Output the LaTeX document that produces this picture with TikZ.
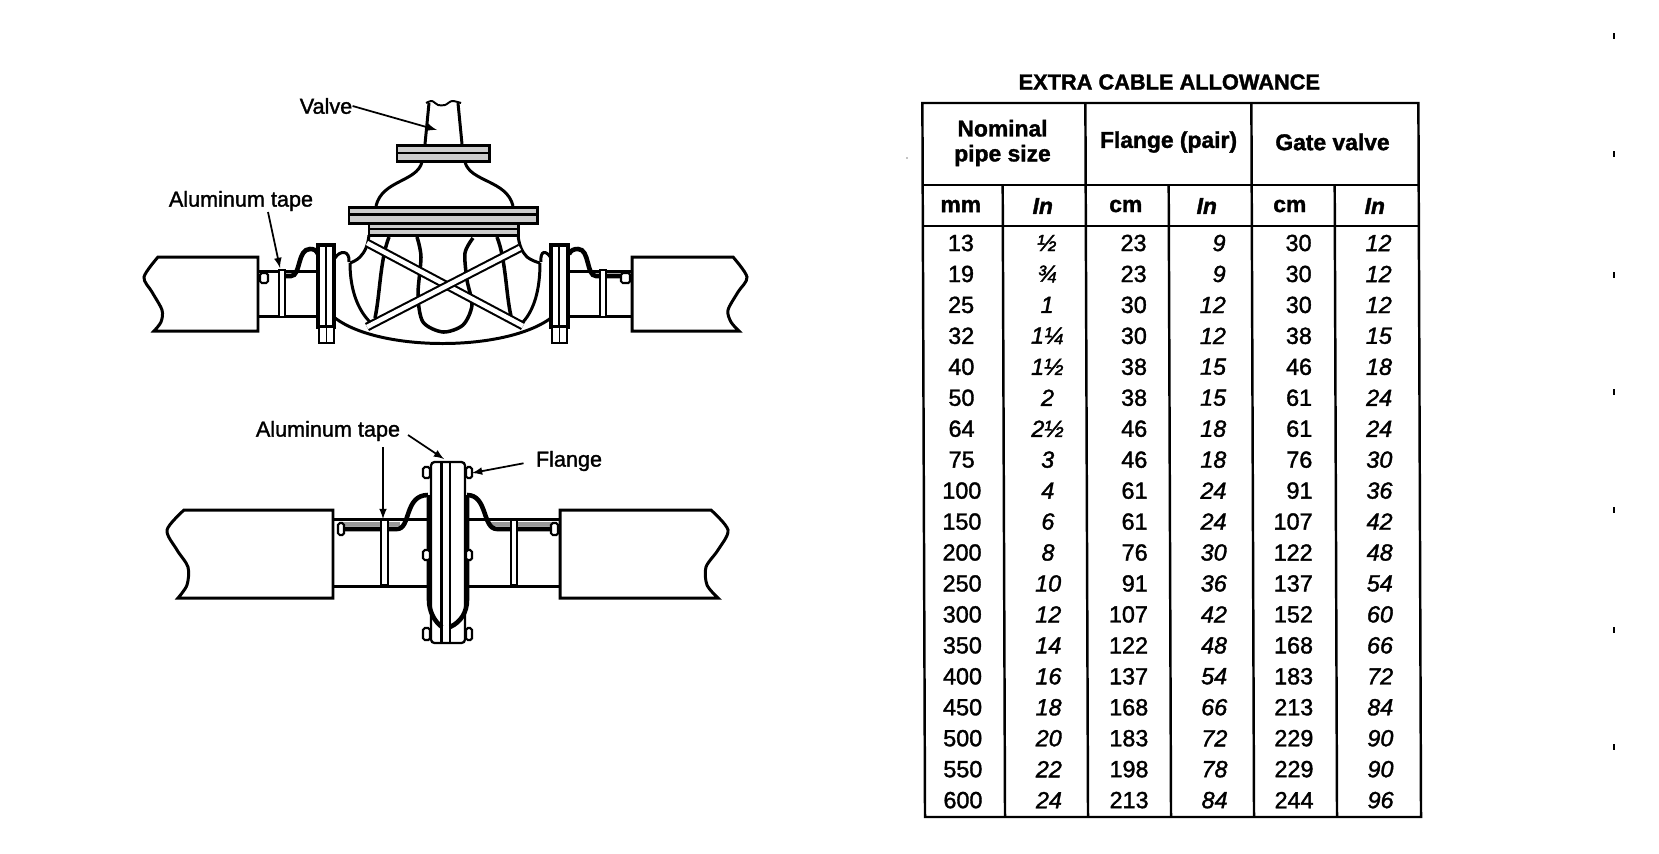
\documentclass[tikz,border=0pt]{standalone}
\usepackage{fontspec}
\setmainfont[FakeBold=1.5]{Liberation Sans}
\usetikzlibrary{arrows}
\tikzset{%
	pipe/.style    = {line width=1.7pt},
	part/.style    = {line width=1.3pt,fill=white},
	strip/.style   = {line width=1.7pt,fill=black!20},
	bolt/.style    = {line width=1.2pt,fill=white,rounded corners=1pt},
	curve/.style   = {line width=1.7pt},
	tape/.style    = {line width=2.6pt},
	bar/.style     = {double,line width=1.2pt,double distance=2.6pt},
	arrow/.style   = {line width=1pt,-latex},
	rule/.style    = {line width=1.4pt},
	lab/.style     = {inner sep=0pt,font=\fontsize{12.3pt}{14pt}\selectfont},
	head/.style    = {inner sep=0pt,align=center,font=\fontsize{13pt}{14.2pt}\selectfont\bfseries},
	headi/.style   = {inner sep=0pt,font=\fontsize{13pt}{14.2pt}\selectfont\bfseries\itshape},
	cellc/.style   = {inner sep=0pt,font=\fontsize{13.3pt}{15pt}\selectfont},
	celli/.style   = {inner sep=0pt,font=\fontsize{13.3pt}{15pt}\selectfont\itshape},
}
\begin{document}
\begin{tikzpicture}[x=.02cm,y=-.02cm]
	\useasboundingbox (0,0) rectangle (1659,853);
	% valve, pipe ends
	\draw[pipe] (258,257) -- (158,257) -- plot[smooth] coordinates {(158,257) (144,277) (152,292) (162,310) (161,322) (154,331)} -- (258,331) -- cycle;
	\draw[pipe] (632,257) -- (733,257) -- plot[smooth] coordinates {(733,257) (747,277) (738,292) (728,310) (731,322) (739,331)} -- (632,331) -- cycle;
	\draw[curve] (258,271) -- (317,271);
	\draw[curve] (258,316) -- (317,316);
	\draw[curve] (568,271) -- (632,271);
	\draw[curve] (568,316) -- (632,316);
	% valve, tape and bolts
	\draw[tape] (286,276) -- (291,276) .. controls (301,276) and (297,249) .. (310,249) .. controls (314,249) and (316,250) .. (318,254);
	\draw[tape] (631,276) -- (596,276) .. controls (586,276) and (590,249) .. (578,249) .. controls (574,249) and (571,250) .. (569,254);
	\draw[bolt] (260,273) rectangle (268,283);
	\draw[bolt] (621,273) rectangle (630,283);
	\draw[part] (279,270) rectangle (285,317);
	\draw[part] (600,270) rectangle (606,317);
	% valve, body
	\draw[curve] (369,235) .. controls (368,245) and (365,252) .. (360,257) .. controls (357,260) and (353,262) .. (350,263);
	\draw[curve] (518,235) .. controls (519,245) and (522,252) .. (527,257) .. controls (531,260) and (536,262) .. (540,263);
	\draw[curve] (350,263) .. controls (350,290) and (358,310) .. (370,322);
	\draw[curve] (540,263) .. controls (540,290) and (534,310) .. (523,322);
	\draw[curve] (335,318) .. controls (380,352) and (505,352) .. (551,318);
	\draw[curve] (335,258) .. controls (340,250) and (350,250) .. (349,262);
	\draw[curve] (551,258) .. controls (546,250) and (540,250) .. (541,262);
	\draw[curve,line width=2pt] (389,237) .. controls (380,260) and (380,295) .. (375,318);
	\draw[curve,line width=2pt] (497,237) .. controls (506,260) and (506,295) .. (511,316);
	\draw[curve,line width=2pt] plot[smooth] coordinates {(417,237) (421,257) (418,295) (423,322) (443,332) (463,325) (472,305) (467,280) (465,253) (473,238)};
	\draw[bar] (367,243) -- (523,326);
	\draw[bar] (520,248) -- (367,327);
	% valve, flanges
	\draw[strip] (369,223) rectangle (518,235);
	\draw[line width=1.6pt] (369,229) -- (518,229);
	\draw[strip] (349,207) rectangle (537,223);
	\draw[line width=1.6pt] (349,214.5) -- (537,214.5);
	\draw[part,line width=2pt] (318,245) rectangle (334,327);
	\draw[line width=1.5pt] (326,245) -- (326,327);
	\draw[part,line width=2pt] (551,245) rectangle (568,327);
	\draw[line width=1.5pt] (559,245) -- (559,327);
	\draw[part] (319,327) rectangle (334,343);
	\draw[line width=1pt] (326.5,327) -- (326.5,343);
	\draw[part] (552,327) rectangle (567,343);
	\draw[line width=1pt] (559.5,327) -- (559.5,343);
	% valve, bonnet and stem
	\draw[curve] (376,206) .. controls (382,180) and (417,182) .. (422,162);
	\draw[curve] (513,206) .. controls (507,180) and (470,182) .. (465,162);
	\draw[strip] (397,145) rectangle (489,161);
	\draw[line width=1.6pt] (397,153) -- (489,153);
	\draw[curve] (425,144) -- (429,103);
	\draw[curve] (462,144) -- (458,103);
	\draw[line width=1.1pt] plot[smooth] coordinates {(426,103) (432,101) (438,105) (445,105) (452,101) (461,103)};
	\node[lab] (valve) at (326,106) {Valve};
	\coordinate (valvetip) at (437,130);
	\draw[arrow] (valve.east) -- (valvetip);
	\node[lab] (tapea) at (241,201) {Aluminum tape};
	\coordinate (tapeatip) at (280,268);
	\draw[arrow] (268,212) -- (tapeatip);
	% flange, pipe ends
	\draw[pipe] (333,510) -- (184,510) -- plot[smooth] coordinates {(184,510) (167,530) (177,550) (188,567) (187,585) (178,598)} -- (333,598) -- cycle;
	\draw[pipe] (560,510) -- (711,510) -- plot[smooth] coordinates {(711,510) (728,530) (718,550) (706,567) (707,585) (718,598)} -- (560,598) -- cycle;
	\draw[curve] (333,519) -- (430,519);
	\draw[curve] (333,586) -- (430,586);
	\draw[curve] (465,519) -- (560,519);
	\draw[curve] (465,586) -- (560,586);
	% flange, tape and bolts
	\draw[line width=2.4pt,black!40] (342,524) -- (400,524);
	\draw[line width=2.4pt,black!40] (490,524) -- (556,524);
	\draw[tape] (340,529) -- (397,529) .. controls (411,529) and (404,495) .. (428,495);
	\draw[tape] (556,529) -- (497,529) .. controls (482,529) and (488,495) .. (467,495);
	\draw[bolt] (338,523) rectangle (344,535);
	\draw[bolt] (551,523) rectangle (558,535);
	\draw[part] (381,520) rectangle (388,585);
	\draw[part] (511,520) rectangle (517,585);
	% flange, plates
	\draw[part,rounded corners=2pt] (431,462) rectangle (465,643);
	\draw[line width=1.3pt] (441.5,462) -- (441.5,643);
	\draw[line width=1.3pt] (450,462) -- (450,643);
	\draw[tape] (429,495) -- (429,600) .. controls (429,612) and (435,622) .. (442,627);
	\draw[tape] (467,495) -- (467,600) .. controls (467,612) and (461,622) .. (450,627);
	\draw[bolt] (423,467) rectangle (430,478);
	\draw[bolt] (466,467) rectangle (472,478);
	\draw[bolt] (423,550) rectangle (430,560);
	\draw[bolt] (466,550) rectangle (472,560);
	\draw[bolt] (423,628) rectangle (430,640);
	\draw[bolt] (466,628) rectangle (472,640);
	\node[lab] (tapeb) at (328,431) {Aluminum tape};
	\node[lab] (flange) at (569,461) {Flange};
	\coordinate (tapebtip) at (383,519);
	\coordinate (tapectip) at (444,459);
	\coordinate (flangetip) at (472,473);
	\draw[arrow] (383,447) -- (tapebtip);
	\draw[arrow] (408,435) -- (tapectip);
	\draw[arrow,shorten <=7pt] (flange.west) -- (flangetip);
	% table
	\begin{scope}[xslant=-.0037]
		\node[head,font=\fontsize{12.4pt}{14pt}\selectfont\bfseries] (title) at (1169,82) {EXTRA CABLE ALLOWANCE};
		\draw[rule] (922,103) rectangle (1418,817);
		\draw[rule] (922,185) -- (1418,185);
		\draw[rule] (922,226) -- (1418,226);
		\draw[rule] (1002,185) -- (1002,817);
		\draw[rule] (1085,103) -- (1085,817);
		\draw[rule] (1168,185) -- (1168,817);
		\draw[rule] (1251,103) -- (1251,817);
		\draw[rule] (1334,185) -- (1334,817);
		\node[head] (nominal) at (1002,143) {Nominal\\pipe size};
		\node[head] (flangepair) at (1168,142) {Flange (pair)};
		\node[head] (gatevalve) at (1332,142) {Gate valve};
		\node[head] (mm) at (960,206) {mm};
		\node[headi] (ina) at (1042,206) {In};
		\node[head] (cma) at (1125,206) {cm};
		\node[headi] (inb) at (1206,206) {In};
		\node[head] (cmb) at (1289,206) {cm};
		\node[headi] (inc) at (1374,206) {In};
		\foreach \da/\db/\dc/\dd/\de/\df [count=\r] in {
			13/½/23/9/30/12, 19/¾/23/9/30/12, 25/1/30/12/30/12, 32/1¼/30/12/38/15,
			40/1½/38/15/46/18, 50/2/38/15/61/24, 64/2½/46/18/61/24, 75/3/46/18/76/30,
			100/4/61/24/91/36, 150/6/61/24/107/42, 200/8/76/30/122/48, 250/10/91/36/137/54,
			300/12/107/42/152/60, 350/14/122/48/168/66, 400/16/137/54/183/72, 450/18/168/66/213/84,
			500/20/183/72/229/90, 550/22/198/78/229/90, 600/24/213/84/244/96}
		{
			\pgfmathsetmacro{\ypos}{243+30.95*(\r-1)}
			\node[cellc] (a\r) at (960,\ypos) {\da};
			\node[celli] (b\r) at (1046,\ypos) {\db};
			\node[cellc,anchor=east] (c\r) at (1146,\ypos) {\dc};
			\node[celli,anchor=east] (d\r) at (1225,\ypos) {\dd};
			\node[cellc,anchor=east] (e\r) at (1311,\ypos) {\de};
			\node[celli,anchor=east] (f\r) at (1391,\ypos) {\df};
		}
	\end{scope}
	% scan marks
	\foreach \ym in {36,154,275,392,510,630,747}
		\draw[line width=1pt] (1614,\ym-3) -- (1614,\ym+3);
	\fill (907,158) circle (.7);
\end{tikzpicture}
\end{document}
